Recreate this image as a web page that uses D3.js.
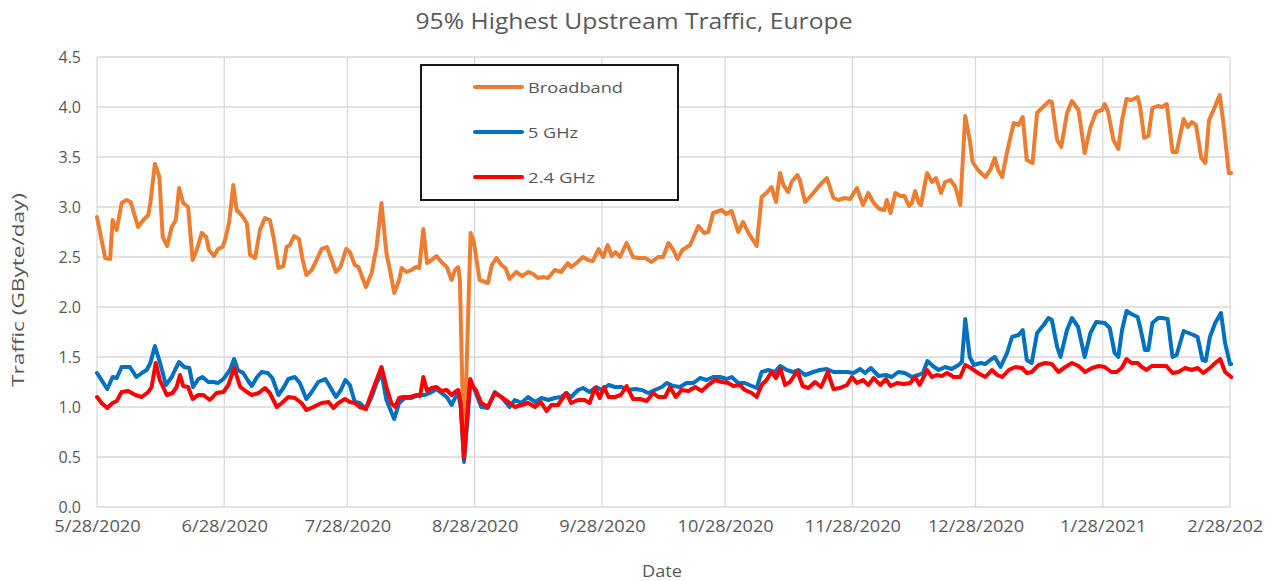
<!DOCTYPE html>
<html>
<head>
<meta charset="utf-8">
<script src="https://cdn.jsdelivr.net/npm/d3@7"></script>
<style>
    body { margin: 0; background: #fff; }
    text { font-family: "Open Sans", sans-serif; fill: #595959; }
</style>
</head>
<body>
<svg id="chart" width="1284" height="581"></svg>
<script>
// data: [days since 5/28/2020, GByte/day]
const START = Date.UTC(2020, 4, 28);
const DAY = 86400000;

const xTickDates = [
    [2020, 4, 28], [2020, 5, 28], [2020, 6, 28], [2020, 7, 28], [2020, 8, 28],
    [2020, 9, 28], [2020, 10, 28], [2020, 11, 28], [2021, 0, 28], [2021, 1, 28]
];
const yTicks = [0, 0.5, 1, 1.5, 2, 2.5, 3, 3.5, 4, 4.5];

const seriesNames = ["Broadband", "5 GHz", "2.4 GHz"];

const broadband = [
    [0,2.90],[2,2.49],[3.2,2.48],[3.8,2.87],[4.8,2.77],[6,3.04],[7.2,3.07],[8.2,3.05],[10,2.80],[11.3,2.87],
    [12.5,2.92],[13,3.04],[14.1,3.43],[15.2,3.30],[16,2.70],[17.1,2.61],[18.2,2.80],[19.2,2.87],[20,3.19],[21,3.04],
    [22.2,3.00],[23.3,2.47],[24.3,2.57],[25.5,2.74],[26.6,2.70],[27.3,2.57],[28.5,2.51],[29.5,2.58],[30.6,2.60],[31.2,2.67],
    [32.2,2.85],[33.2,3.22],[34,2.97],[35.2,2.92],[36.5,2.84],[37.3,2.52],[38.5,2.49],[39.7,2.77],[40.9,2.89],[42.1,2.87],
    [43,2.70],[44.2,2.39],[45.4,2.41],[46.2,2.60],[47,2.62],[48,2.71],[49.2,2.68],[50,2.49],[51,2.32],[52.3,2.37],
    [53.5,2.47],[54.7,2.58],[56,2.60],[57.2,2.47],[58.2,2.35],[59.3,2.40],[60.7,2.58],[61.6,2.55],[62.8,2.42],[63.7,2.40],
    [65.5,2.20],[66.9,2.34],[68.1,2.60],[69.3,3.04],[70.5,2.54],[71.5,2.34],[72.4,2.14],[73.6,2.27],[74.2,2.39],[75.4,2.35],
    [76.6,2.37],[77.7,2.40],[78.5,2.39],[79.5,2.78],[80.4,2.44],[81.5,2.47],[82.7,2.51],[83.9,2.45],[85.2,2.40],[86.4,2.27],
    [87.2,2.37],[88,2.40],[88.4,2.27],[89.4,0.50],[91,2.74],[91.7,2.67],[92.1,2.57],[93.2,2.27],[95.2,2.24],[96.2,2.42],
    [97.3,2.49],[98.5,2.42],[99.5,2.39],[100.5,2.28],[102.1,2.35],[103.5,2.31],[105.1,2.35],[106.2,2.33],[107.4,2.29],[108.6,2.30],
    [109.9,2.29],[111.5,2.37],[113.1,2.35],[114.7,2.44],[115.5,2.40],[116.8,2.44],[118.4,2.50],[119.6,2.47],[120.8,2.46],[122.2,2.58],
    [123.3,2.50],[124.4,2.62],[125.4,2.51],[126.3,2.55],[127.4,2.50],[129,2.64],[130.6,2.50],[131.9,2.49],[133.5,2.49],[135.1,2.45],
    [136.7,2.50],[137.9,2.50],[139.2,2.64],[140.4,2.57],[141.4,2.48],[142.6,2.57],[144.5,2.62],[146.5,2.81],[147.9,2.74],[148.9,2.75],
    [150.1,2.94],[152.2,2.97],[153.2,2.93],[154.6,2.96],[156.2,2.75],[157.4,2.85],[158.7,2.74],[160.7,2.61],[161.9,3.10],[163.1,3.14],
    [164.3,3.20],[165.4,3.05],[166.4,3.34],[167.2,3.22],[168.4,3.15],[169.2,3.25],[170.6,3.32],[171.2,3.27],[172.5,3.05],[174.1,3.12],
    [176.1,3.22],[177.8,3.29],[179.4,3.09],[180.6,3.07],[182.2,3.09],[183.5,3.08],[185.1,3.19],[186.6,3.02],[187.9,3.14],[189.2,3.04],
    [190.6,2.98],[191.8,2.97],[192.4,3.07],[193.3,2.94],[194.5,3.14],[195.7,3.11],[196.7,3.11],[197.8,3.01],[198.5,3.04],[199.3,3.16],
    [200.2,3.04],[200.7,3.02],[202.2,3.34],[203.4,3.25],[204.4,3.29],[205.6,3.14],[206.6,3.25],[207.9,3.27],[209.1,3.20],[210.3,3.02],
    [211.5,3.91],[212.6,3.67],[213.3,3.45],[214.6,3.37],[216.4,3.30],[217.6,3.37],[218.7,3.49],[219.5,3.37],[220.5,3.30],[221.7,3.55],
    [223.3,3.84],[224.5,3.82],[225.5,3.90],[226.5,3.47],[227.9,3.44],[229,3.94],[230.2,3.99],[232,4.06],[232.6,4.05],[233.9,3.67],
    [234.9,3.60],[236.3,3.94],[237.5,4.06],[239.1,3.97],[240.6,3.54],[242,3.80],[243.4,3.95],[244.8,3.97],[245.5,4.03],[246.3,3.95],
    [247.6,3.67],[248.8,3.58],[249.7,3.87],[250.8,4.08],[252,4.07],[253.5,4.10],[254.1,4.00],[255.1,3.69],[256.1,3.71],[257.1,3.99],
    [258.4,4.01],[259.5,4.00],[260.6,4.03],[262,3.55],[263,3.55],[264.7,3.88],[265.7,3.80],[266.7,3.85],[267.7,3.82],[269,3.49],
    [270,3.44],[270.9,3.87],[272,3.97],[273.5,4.12],[274.6,3.77],[275.7,3.34],[276.3,3.34]
];

const ghz5 = [
    [0,1.34],[1.1,1.27],[2.5,1.18],[3.8,1.30],[4.8,1.29],[6,1.40],[8,1.40],[9.6,1.30],[10.9,1.34],[12.1,1.37],
    [13,1.44],[14.1,1.61],[15.3,1.45],[16.8,1.22],[18.2,1.30],[19,1.37],[20,1.45],[21.2,1.40],[22.5,1.39],[23.4,1.20],
    [24.7,1.28],[25.7,1.30],[27.1,1.25],[28.3,1.25],[29.5,1.24],[30.8,1.28],[31.5,1.32],[32.4,1.37],[33.4,1.48],[34.3,1.37],
    [35.6,1.34],[36.7,1.27],[37.7,1.21],[39,1.30],[40.1,1.35],[41.6,1.34],[42.7,1.29],[44.2,1.12],[45.4,1.19],[46.6,1.28],
    [48.2,1.30],[49.4,1.24],[51,1.08],[52.3,1.15],[53.9,1.25],[55.6,1.28],[56.8,1.20],[58.2,1.10],[59.4,1.17],[60.5,1.27],
    [61.6,1.22],[62.8,1.05],[64,1.04],[65.5,0.98],[66.9,1.10],[68.1,1.24],[69.3,1.34],[70.5,1.07],[71.5,0.97],[72.4,0.88],
    [73.6,1.04],[75,1.09],[76.6,1.09],[78.3,1.12],[79.9,1.12],[81.1,1.14],[82.7,1.18],[83.9,1.14],[85.2,1.10],[86.4,1.02],
    [87.2,1.09],[88,1.14],[88.6,1.00],[89.4,0.45],[90.9,1.22],[91.7,1.20],[92.3,1.14],[93.6,1.00],[95.2,0.99],[96.9,1.15],
    [98.5,1.10],[100.5,1.00],[101.8,1.07],[103.4,1.04],[105,1.10],[106.7,1.05],[108.3,1.09],[109.9,1.07],[111.5,1.09],[113.1,1.10],
    [114.3,1.14],[115.5,1.10],[117.2,1.17],[118.4,1.19],[120,1.15],[121.6,1.20],[123,1.17],[124.6,1.22],[126.2,1.20],[127.8,1.20],
    [129.5,1.17],[131.1,1.18],[132.7,1.17],[134.3,1.14],[135.9,1.17],[137.6,1.20],[138.8,1.24],[140.4,1.21],[142,1.20],[143.6,1.24],
    [145.3,1.24],[146.9,1.29],[148.5,1.27],[150.1,1.30],[151.8,1.30],[153.4,1.28],[154.6,1.30],[156.2,1.24],[157.8,1.24],[159.5,1.21],
    [160.7,1.19],[161.9,1.35],[163.5,1.37],[165.1,1.35],[166.4,1.41],[168,1.37],[169.6,1.35],[170.8,1.37],[172.5,1.32],[174.5,1.35],
    [176.1,1.37],[177.8,1.38],[179.4,1.35],[181,1.35],[182.7,1.35],[184.3,1.34],[185.9,1.38],[187.1,1.34],[188.5,1.39],[190.4,1.31],
    [192.2,1.32],[193.6,1.30],[195.2,1.35],[196.8,1.34],[198.5,1.30],[200.1,1.32],[201.2,1.34],[202.3,1.46],[203.6,1.41],[205,1.37],
    [206.6,1.40],[208.2,1.38],[209.9,1.42],[210.7,1.45],[211.5,1.88],[212.6,1.50],[213.6,1.42],[215.2,1.44],[216.4,1.43],[217.6,1.47],
    [218.7,1.50],[220.1,1.40],[221.7,1.54],[222.9,1.70],[224.5,1.72],[225.5,1.77],[226.5,1.47],[227.7,1.44],[229,1.74],[230.6,1.82],
    [231.8,1.89],[232.6,1.87],[233.9,1.60],[234.7,1.50],[236.3,1.77],[237.5,1.89],[239,1.80],[240.6,1.50],[242,1.74],[243.4,1.85],
    [245.5,1.84],[246.7,1.79],[247.9,1.54],[248.8,1.50],[249.7,1.77],[250.8,1.96],[252,1.93],[253.5,1.90],[254.1,1.80],[255.3,1.57],
    [256.1,1.57],[257.1,1.84],[258.5,1.89],[259.5,1.89],[260.8,1.88],[262,1.50],[263,1.52],[264.7,1.76],[265.9,1.74],[267.1,1.72],
    [268.1,1.70],[269.3,1.47],[270.1,1.46],[271.1,1.70],[272.4,1.84],[273.8,1.94],[274.8,1.64],[276,1.43],[276.3,1.43]
];

const ghz24 = [
    [0,1.10],[1.1,1.04],[2.5,0.99],[3.8,1.04],[4.8,1.06],[6,1.15],[7.6,1.16],[9.3,1.12],[10.9,1.10],[12.5,1.15],
    [13.3,1.20],[14.3,1.44],[15.3,1.27],[17,1.12],[18.4,1.14],[19.4,1.20],[20.2,1.32],[21,1.21],[22.2,1.20],[23.3,1.08],
    [24.7,1.12],[25.9,1.12],[27.5,1.07],[29.1,1.14],[30.8,1.15],[32,1.22],[33.4,1.39],[34.9,1.20],[36.5,1.15],[37.7,1.12],
    [39.4,1.14],[40.9,1.19],[42.1,1.14],[43.8,1.00],[45,1.04],[46.6,1.10],[48.2,1.09],[49.8,1.04],[51,0.97],[52.7,1.00],
    [54.7,1.04],[56.4,1.05],[57.6,0.99],[58.8,1.04],[60.4,1.08],[61.6,1.05],[62.8,1.04],[64,1.00],[65.5,0.98],[66.9,1.14],
    [68.1,1.27],[69.3,1.40],[70.5,1.20],[71.7,1.04],[72.6,1.00],[73.6,1.09],[74.6,1.10],[76.3,1.10],[77.9,1.12],[78.7,1.11],
    [79.5,1.30],[80.4,1.16],[81.5,1.19],[82.7,1.20],[83.9,1.16],[85.2,1.17],[86.4,1.12],[87.2,1.15],[88,1.17],[88.6,1.04],
    [89.4,0.49],[90.9,1.28],[91.7,1.20],[92.3,1.17],[93.6,1.04],[95.2,1.00],[96.9,1.14],[98.5,1.10],[100.2,1.05],[101.8,1.00],
    [103.4,1.02],[105,1.04],[106.7,1.00],[108.1,1.05],[109.5,0.96],[110.7,1.02],[112.3,1.02],[114.3,1.14],[115.5,1.04],[117.2,1.07],
    [118.8,1.07],[120,1.04],[121.3,1.19],[122.5,1.09],[123.5,1.20],[124.6,1.10],[126.2,1.10],[127.6,1.12],[129,1.21],[130.6,1.08],
    [132.3,1.08],[133.9,1.06],[135.5,1.14],[136.7,1.10],[138.4,1.10],[139.6,1.20],[141,1.10],[142.4,1.17],[144.1,1.16],[145.7,1.20],
    [147.3,1.16],[148.9,1.22],[150.6,1.27],[152.2,1.25],[153.8,1.24],[155,1.21],[156.6,1.22],[157.8,1.17],[159.5,1.14],[160.7,1.10],
    [161.9,1.22],[163.1,1.27],[164.3,1.35],[165.4,1.29],[166.5,1.38],[167.6,1.22],[168.8,1.25],[170.6,1.36],[171.9,1.21],[173.3,1.19],
    [174.9,1.25],[176.4,1.20],[178,1.35],[179.4,1.18],[181,1.19],[182.7,1.22],[183.9,1.30],[185.1,1.24],[186.6,1.27],[187.9,1.22],
    [189.2,1.29],[190.8,1.22],[192.2,1.28],[193.3,1.21],[194.9,1.24],[196.5,1.23],[198.1,1.24],[199.3,1.30],[200.4,1.22],[202.2,1.37],
    [203.4,1.30],[204.6,1.32],[205.8,1.31],[207.1,1.34],[208.7,1.30],[210.3,1.30],[211.5,1.42],[212.9,1.39],[214.6,1.34],[216.4,1.30],
    [218,1.37],[219.3,1.32],[220.5,1.30],[222.1,1.37],[223.7,1.40],[225.3,1.39],[226.5,1.34],[227.7,1.35],[229.4,1.42],[231,1.44],
    [232.6,1.43],[234.2,1.35],[235.9,1.40],[237.5,1.44],[239.1,1.41],[240.7,1.35],[242.4,1.39],[244,1.41],[245.5,1.40],[247.1,1.35],
    [248.4,1.35],[249.6,1.39],[250.8,1.48],[252,1.44],[253.5,1.44],[254.5,1.40],[255.7,1.37],[256.9,1.41],[258.5,1.41],[260.5,1.41],
    [262,1.34],[263.4,1.35],[265.1,1.39],[266.7,1.37],[268.1,1.39],[269.5,1.34],[271.1,1.39],[272.4,1.44],[273.6,1.48],[274.8,1.35],
    [276,1.31],[276.3,1.30]
];

const seriesColors = ["#ED7D31", "#0070C0", "#FF0000"];
const series = [broadband, ghz5, ghz24];

const plot = {left: 97, right: 1230, top: 57, bottom: 507};

const svg = d3.select("#chart");

const x = d3.scaleUtc()
    .domain([new Date(START), new Date(Date.UTC(2021, 1, 28))])
    .range([plot.left, plot.right]);
const y = d3.scaleLinear()
    .domain([0, 4.5])
    .range([plot.bottom, plot.top]);

const xTicks = xTickDates.map(d => new Date(Date.UTC(d[0], d[1], d[2])));
const fmt = d3.utcFormat("%-m/%-d/%Y");

// grid
const grid = svg.append("g")
    .attr("stroke", "#d9d9d9")
    .attr("stroke-width", 1.3);
grid.selectAll("line.h")
    .data(yTicks)
    .join("line")
    .attr("class", "h")
    .attr("x1", plot.left).attr("x2", plot.right)
    .attr("y1", d => y(d)).attr("y2", d => y(d));
grid.selectAll("line.v")
    .data(xTicks)
    .join("line")
    .attr("class", "v")
    .attr("x1", d => x(d)).attr("x2", d => x(d))
    .attr("y1", plot.top).attr("y2", plot.bottom);

// axes (labels only); the chart frame cuts the last date label
svg.append("clipPath").attr("id", "xclip")
    .append("rect").attr("x", 0).attr("y", 0).attr("width", 1263).attr("height", 581);

const xAxis = svg.append("g")
    .attr("clip-path", "url(#xclip)")
    .attr("transform", `translate(0,${plot.bottom})`)
    .call(d3.axisBottom(x).tickValues(xTicks).tickFormat(fmt).tickSize(0).tickPadding(14));
xAxis.select(".domain").remove();
xAxis.selectAll("text")
    .attr("font-size", 16)
    .attr("fill", "#595959")
    .attr("textLength", function() { return this.textContent.length * 9.6; })
    .attr("lengthAdjust", "spacingAndGlyphs");

const yAxis = svg.append("g")
    .attr("transform", `translate(${plot.left},0)`)
    .call(d3.axisLeft(y).tickValues(yTicks).tickFormat(d3.format(".1f")).tickSize(0).tickPadding(16));
yAxis.select(".domain").remove();
yAxis.selectAll("text")
    .attr("font-size", 16)
    .attr("fill", "#595959");

// lines
const line = d3.line()
    .x(d => x(new Date(START + d[0] * DAY)))
    .y(d => y(d[1]));

svg.append("g")
    .selectAll("path")
    .data(series)
    .join("path")
    .attr("fill", "none")
    .attr("stroke", (d, i) => seriesColors[i])
    .attr("stroke-width", 4)
    .attr("stroke-linejoin", "round")
    .attr("stroke-linecap", "round")
    .attr("d", line);

// titles
svg.append("text")
    .attr("x", 634).attr("y", 29)
    .attr("text-anchor", "middle")
    .attr("font-size", 21)
    .attr("textLength", 437)
    .attr("lengthAdjust", "spacingAndGlyphs")
    .text("95% Highest Upstream Traffic, Europe");

svg.append("text")
    .attr("x", 662).attr("y", 577)
    .attr("text-anchor", "middle")
    .attr("font-size", 17)
    .attr("textLength", 40)
    .attr("lengthAdjust", "spacingAndGlyphs")
    .text("Date");

svg.append("text")
    .attr("transform", "translate(24,290) rotate(-90)")
    .attr("text-anchor", "middle")
    .attr("font-size", 17)
    .attr("textLength", 194)
    .attr("lengthAdjust", "spacingAndGlyphs")
    .text("Traffic (GByte/day)");

// legend
const legend = svg.append("g").attr("transform", "translate(421,65)");
legend.append("rect")
    .attr("width", 257).attr("height", 135)
    .attr("fill", "#fff")
    .attr("stroke", "#000")
    .attr("stroke-width", 1.8);
const legendWidths = [95, 50, 67];
const item = legend.selectAll("g.item")
    .data(seriesNames)
    .join("g")
    .attr("class", "item")
    .attr("transform", (d, i) => `translate(0,${22 + i * 45})`);
item.append("line")
    .attr("x1", 54).attr("x2", 101)
    .attr("stroke", (d, i) => seriesColors[i])
    .attr("stroke-width", 4)
    .attr("stroke-linecap", "round");
item.append("text")
    .attr("x", 107).attr("y", 5.5)
    .attr("font-size", 15)
    .attr("textLength", (d, i) => legendWidths[i])
    .attr("lengthAdjust", "spacingAndGlyphs")
    .text(d => d);
</script>
</body>
</html>
